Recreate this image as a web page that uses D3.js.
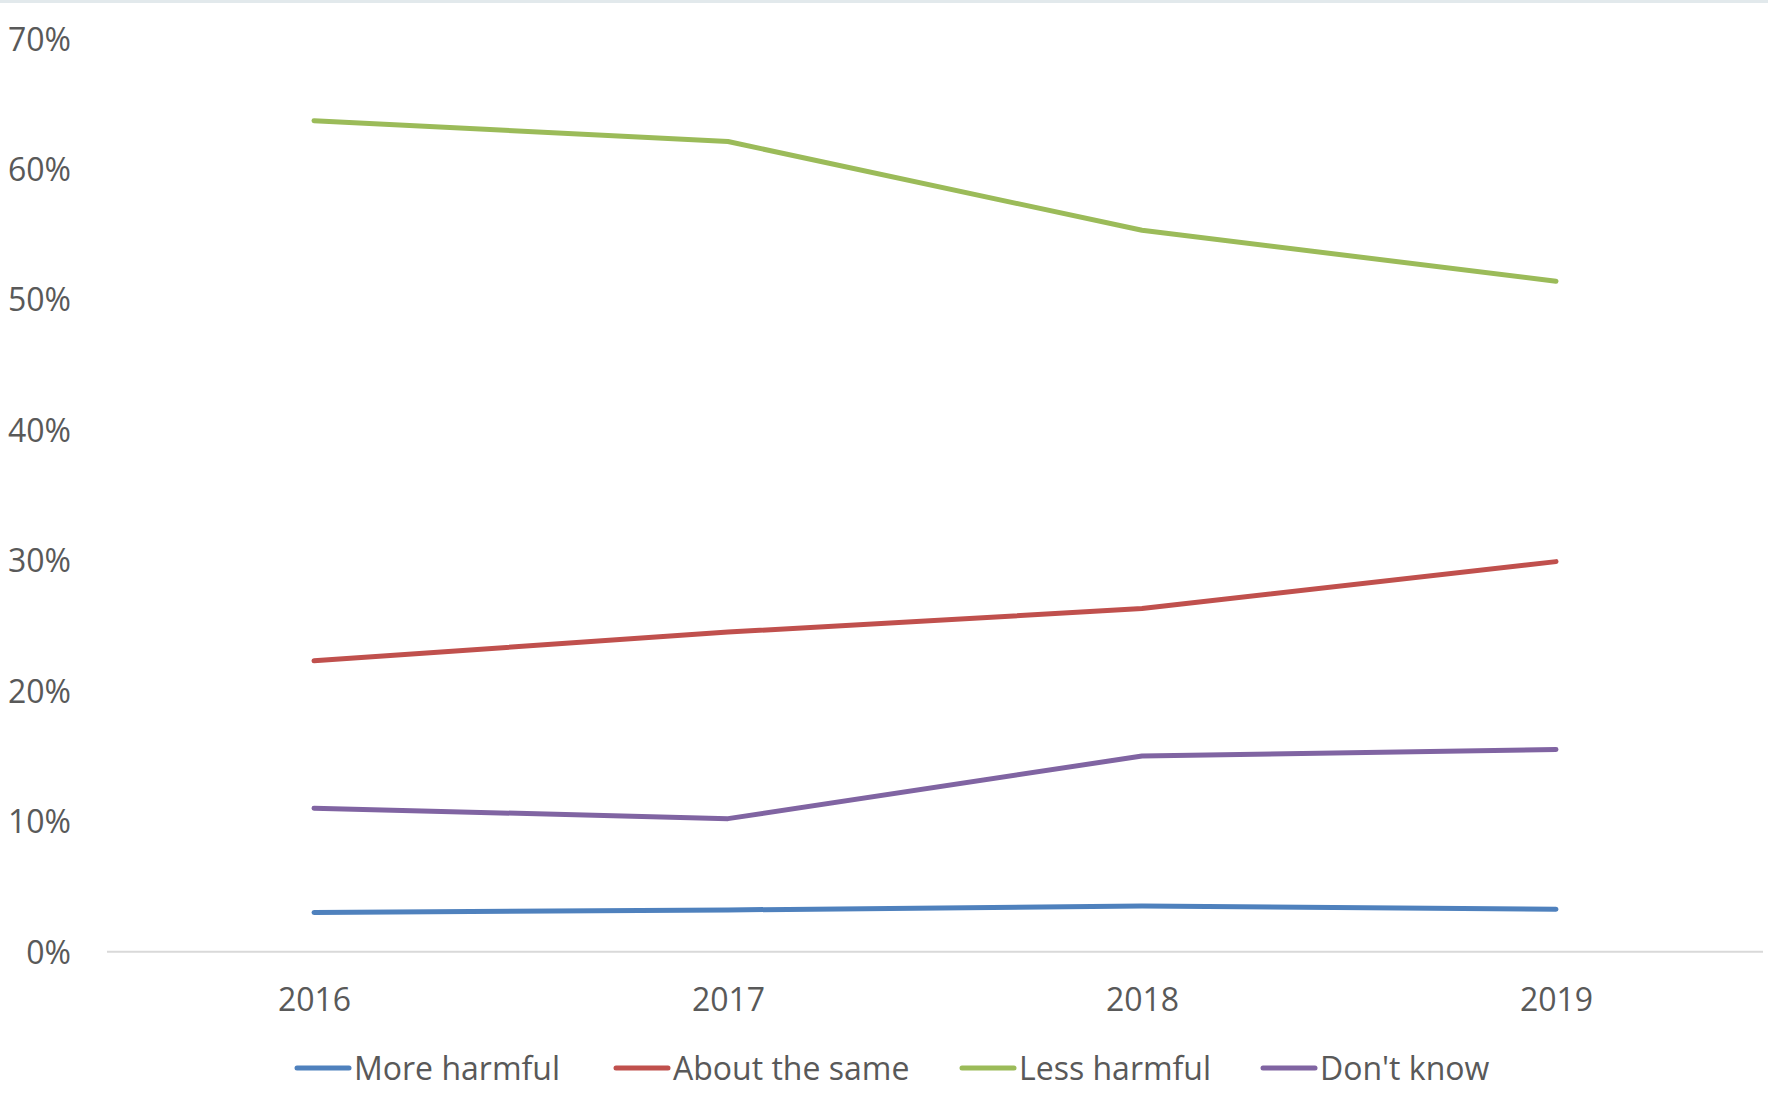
<!DOCTYPE html>
<html>
<head>
<meta charset="utf-8">
<script src="https://cdn.jsdelivr.net/npm/d3@7"></script>
<style>
  html, body { margin: 0; padding: 0; background: #ffffff; }
  svg { display: block; }
  text { font-family: "Open Sans", "Noto Sans", sans-serif; fill: #595959; }
</style>
</head>
<body>
<svg id="chart" width="1768" height="1103"></svg>
<script>
// Survey years
const years = ["2016", "2017", "2018", "2019"];

// Share of respondents per answer (percent)
const moreHarmful   = [3.0, 3.2, 3.5, 3.25];
const aboutTheSame  = [22.3, 24.5, 26.3, 29.9];
const lessHarmful   = [63.7, 62.1, 55.3, 51.4];
const dontKnow      = [11.0, 10.2, 15.0, 15.5];

const seriesNames  = ["More harmful", "About the same", "Less harmful", "Don't know"];
const seriesValues = [moreHarmful, aboutTheSame, lessHarmful, dontKnow];
const seriesColors = ["#4F81BD", "#C0504D", "#9BBB59", "#8064A2"];

const yTicks = [0, 10, 20, 30, 40, 50, 60, 70];

const W = 1768, H = 1103;
const plot = { left: 107, right: 1763, top: 38.5, bottom: 951.7 };

const svg = d3.select("#chart");

// thin band along the top edge
svg.append("rect").attr("x", 0).attr("y", 0).attr("width", W).attr("height", 3)
  .attr("fill", "#e2e9ec");

const x = d3.scalePoint().domain(years).range([plot.left, plot.right]).padding(0.5);
const y = d3.scaleLinear().domain([0, 70]).range([plot.bottom, plot.top]);

// y-axis labels (no axis line, no gridlines)
const yAxis = d3.axisLeft(y).tickValues(yTicks).tickSize(0).tickPadding(0)
  .tickFormat(d => d + "%");
const gy = svg.append("g").attr("transform", "translate(71,0)").call(yAxis);
gy.select(".domain").remove();
gy.selectAll("text").attr("font-size", 32).attr("dy", "0.36em")
  .style("font-family", "'Open Sans', sans-serif").attr("fill", "#595959");

// baseline at 0%
svg.append("line")
  .attr("x1", plot.left).attr("x2", plot.right)
  .attr("y1", y(0)).attr("y2", y(0))
  .attr("stroke", "#d9d9d9").attr("stroke-width", 2);

// x-axis labels
const xAxis = d3.axisBottom(x).tickSize(0).tickPadding(0);
const gx = svg.append("g").attr("transform", `translate(0,${y(0)})`).call(xAxis);
gx.select(".domain").remove();
gx.selectAll("text").attr("font-size", 32).attr("dy", 0).attr("y", 59)
  .style("font-family", "'Open Sans', sans-serif").attr("fill", "#595959");

// series lines
const line = d3.line().x((d, i) => x(years[i])).y(d => y(d));
seriesValues.forEach((vals, k) => {
  svg.append("path")
    .datum(vals)
    .attr("d", line)
    .attr("fill", "none")
    .attr("stroke", seriesColors[k])
    .attr("stroke-width", 5)
    .attr("stroke-linecap", "round")
    .attr("stroke-linejoin", "round");
});

// legend
const legendY = 1068;
const legendStarts = [297, 616, 962, 1263];
const legend = svg.append("g");
seriesNames.forEach((name, k) => {
  const g = legend.append("g").attr("transform", `translate(${legendStarts[k]},${legendY})`);
  g.append("line").attr("x1", 0).attr("x2", 52).attr("y1", 0).attr("y2", 0)
    .attr("stroke", seriesColors[k]).attr("stroke-width", 5).attr("stroke-linecap", "round");
  g.append("text").attr("x", 57).attr("y", 0).attr("dy", "0.36em")
    .attr("font-size", 32).text(name);
});
</script>
</body>
</html>
